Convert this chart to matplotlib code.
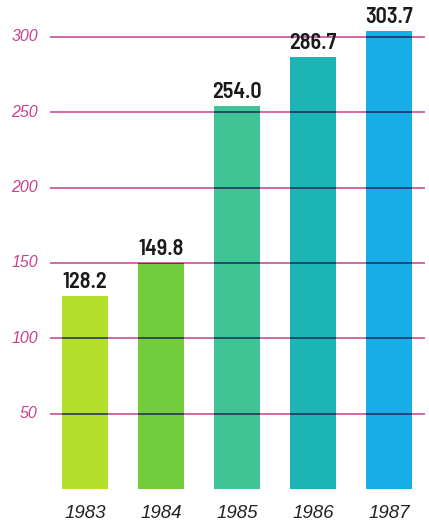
import matplotlib
matplotlib.use("Agg")
import matplotlib.pyplot as plt
from matplotlib.figure import Figure
from matplotlib.axes import Axes

years = ["1983", "1984", "1985", "1986", "1987"]
values = [128.2, 149.8, 254.0, 286.7, 303.7]
grid_ticks = [50, 100, 150, 200, 250, 300]

bar_colors = ["#b4df2c", "#72cc3c", "#40c496", "#1cb4b4", "#18ade6"]
grid_color = "#c8408e"
over_color = "#1e2a5a"

plt.rcParams["font.family"] = ["Liberation Sans", "DejaVu Sans"]

fig: Figure = plt.figure(figsize=(4.29, 5.26), dpi=100)
ax: Axes = fig.add_axes([50 / 429, 37 / 526, 375 / 429, 489 / 526])

x = list(range(len(years)))
bars = ax.bar(x, values, width=0.6, color=bar_colors, zorder=2)

# grid lines: pink on white, dark where they cross the bars
for t in grid_ticks:
	ax.axhline(t, color=grid_color, lw=1.1, zorder=1)
	for b in bars:
		ln = ax.axhline(t, color=over_color, lw=1.1, zorder=3)
		ln.set_clip_path(b)

for xi, v in zip(x, values):
	ax.annotate(f"{v:.1f}", (xi, v), xytext=(0, 3), textcoords="offset points",
				ha="center", va="bottom", fontsize=16, fontweight=600,
				family=["Barlow Semi Condensed", "DejaVu Sans"], color="#1a1a1a")

ax.set_xlim(-0.46, 4.47)
ax.set_ylim(0, 324.5)

for t in grid_ticks:
	ax.text(-0.62, t, str(t), ha="right", va="center", fontsize=11.5,
			style="italic", color=grid_color)
for xi, y in zip(x, years):
	ax.text(xi, -16, y, ha="center", va="center", fontsize=13.5,
			style="italic", color="#222222")

ax.axis("off")
fig.savefig("out.png", dpi=100)
